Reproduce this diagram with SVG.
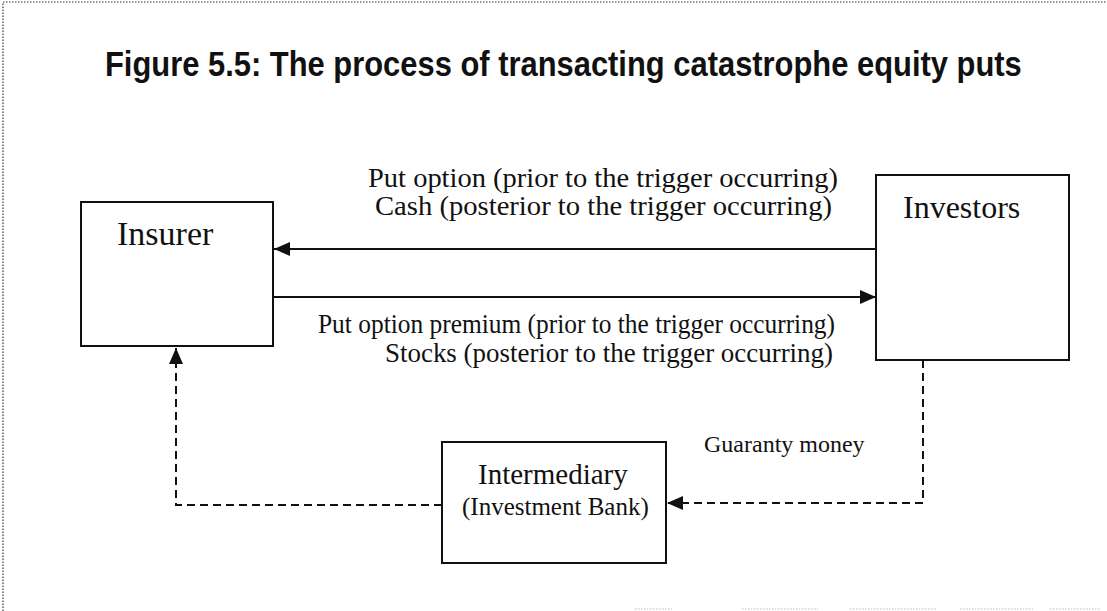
<svg xmlns="http://www.w3.org/2000/svg" width="1107" height="611" viewBox="0 0 1107 611">
<defs>
<style>
.box{fill:#fff;stroke:#111;stroke-width:2}
.lbl{font-family:"Liberation Serif","Times New Roman",serif;fill:#111}
.solid{stroke:#111;stroke-width:2;fill:none}
.dash{stroke:#111;stroke-width:2;fill:none;stroke-dasharray:8 5}
.border{stroke:#333;stroke-width:1.2;fill:none;stroke-dasharray:1.5 1.5}
</style>
<marker id="ah" viewBox="0 0 16 14" refX="16" refY="7" markerWidth="16" markerHeight="14" markerUnits="userSpaceOnUse" orient="auto">
<path d="M0,0 L16,7 L0,14 Z" fill="#111"/>
</marker>
</defs>
<rect width="1107" height="611" fill="#fff"/>
<g id="frame">
<path class="border" d="M3,611 L3,2 L1106,2"/>
<path d="M635,609 H672 M742,609 H818 M850,609 H937 M960,609 H1033 M1050,609 H1100" stroke="#bbb" stroke-width="1" stroke-dasharray="1.5 1.5" fill="none"/>
</g>
<g id="title" transform="translate(105,76) scale(0.8,1)">
<text x="0" y="0" font-family="'Liberation Sans',Arial,sans-serif" font-weight="bold" font-size="36" textLength="1146" lengthAdjust="spacingAndGlyphs" fill="#111">Figure 5.5: The process of transacting catastrophe equity puts</text>
</g>
<g id="insurer">
<rect class="box" x="81" y="202" width="192" height="144"/>
<text class="lbl" x="117" y="245" font-size="34">Insurer</text>
</g>
<g id="investors">
<rect class="box" x="876" y="175" width="193" height="185"/>
<text class="lbl" x="903" y="218" font-size="32">Investors</text>
</g>
<g id="intermediary">
<rect class="box" x="442" y="442" width="224" height="121"/>
<text class="lbl" x="478" y="484" font-size="29">Intermediary</text>
<text class="lbl" x="462" y="515" font-size="25">(Investment Bank)</text>
</g>
<g id="connectors">
<line class="solid" x1="876" y1="249" x2="274" y2="249" marker-end="url(#ah)"/>
<line class="solid" x1="273" y1="297" x2="876" y2="297" marker-end="url(#ah)"/>
<path class="dash" d="M442,505 H176 V348" marker-end="url(#ah)"/>
<path class="dash" d="M923,360 V503 H667" marker-end="url(#ah)"/>
</g>
<g id="labels">
<text class="lbl" x="368" y="187" font-size="28" textLength="470" lengthAdjust="spacingAndGlyphs">Put option (prior to the trigger occurring)</text>
<text class="lbl" x="375" y="215" font-size="28" textLength="457" lengthAdjust="spacingAndGlyphs">Cash (posterior to the trigger occurring)</text>
<text class="lbl" x="318" y="333" font-size="28" textLength="517" lengthAdjust="spacingAndGlyphs">Put option premium (prior to the trigger occurring)</text>
<text class="lbl" x="385" y="362" font-size="28" textLength="448" lengthAdjust="spacingAndGlyphs">Stocks (posterior to the trigger occurring)</text>
<text class="lbl" x="704" y="452" font-size="24">Guaranty money</text>
</g>
</svg>
